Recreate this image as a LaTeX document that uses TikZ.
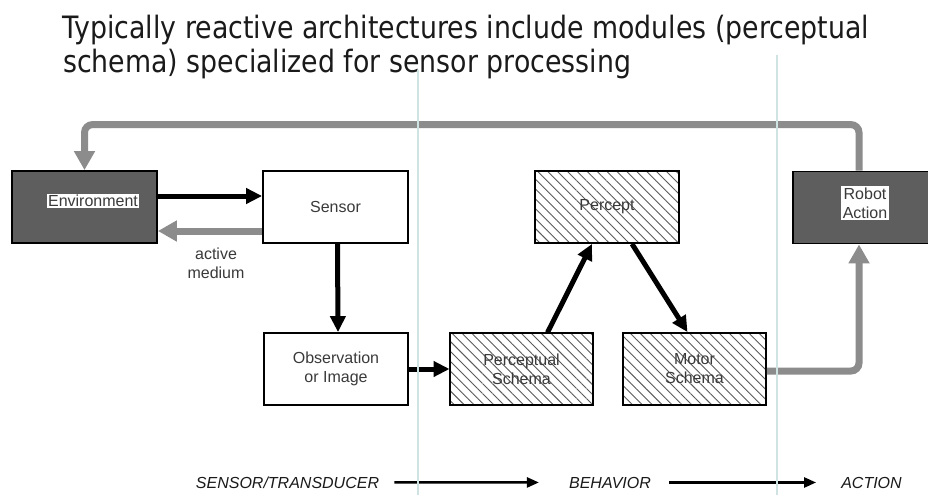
\documentclass[tikz,border=0pt]{standalone}
\usepackage{fontspec}
\setmainfont{Liberation Sans}
\newfontfamily\titlefont[FakeStretch=0.87]{DejaVu Sans}
\usetikzlibrary{arrows.meta,patterns.meta}
\definecolor{labc}{HTML}{3A3A3A}
\definecolor{darkc}{HTML}{5E5E5E}
\definecolor{grayc}{HTML}{8C8C8C}
\definecolor{hatchc}{HTML}{5A5A5A}
\definecolor{guidec}{HTML}{CFE3E3}
\definecolor{titlec}{HTML}{1A1A1A}
\begin{document}
\begin{tikzpicture}[x=1pt,y=-1pt,
  box/.style={draw=black, line width=1.8pt, inner sep=0pt, minimum height=72pt,
    font=\fontsize{16pt}{19pt}\selectfont, text=labc, align=center},
  whitebox/.style={box, fill=white},
  hatchbox/.style={box, pattern={Lines[angle=-45,distance=7pt,line width=0.9pt]}, pattern color=hatchc},
  darkbox/.style={box, fill=darkc},
  wlabel/.style={fill=white, inner sep=1.5pt, font=\fontsize{16pt}{19pt}\selectfont, text=labc, align=center},
  blk/.style={-{Triangle[length=16pt,width=15pt]}, line width=5pt, draw=black},
  gry/.style={-{Triangle[length=19pt,width=20pt]}, line width=7pt, draw=grayc},
  thinarr/.style={-{Triangle[length=12pt,width=10pt]}, line width=2.5pt, draw=black},
  stage/.style={inner sep=0pt, font=\fontsize{16pt}{19pt}\selectfont\itshape, text=titlec, anchor=base},
  titletext/.style={inner sep=0pt, anchor=base west, font=\titlefont\fontsize{30.8pt}{34pt}\selectfont, text=titlec},
  guide/.style={draw=guidec, line width=1.6pt}
]
\useasboundingbox (0,0) rectangle (928,495);
\clip (0,0) rectangle (928,495);
\fill[white] (0,0) rectangle (928,495);

% title
\node[titletext] (t1) at (62,39) {Typically reactive architectures include modules (perceptual};
\node[titletext] (t2) at (63,73) {schema) specialized for sensor processing};

% boxes
\node[darkbox, minimum width=145pt] (env) at (84.5,207) {};
\node[wlabel] (envl) at (93,201) {Environment};
\node[whitebox, minimum width=145pt] (sensor) at (335.5,207) {Sensor};
\node[whitebox, minimum width=144pt] (obs) at (336,369) {Observation\\or Image};
\node[hatchbox, minimum width=143pt] (ps) at (521.5,369) {Perceptual\\Schema};
\node[hatchbox, minimum width=144pt] (percept) at (607,207) {Percept};
\node[hatchbox, minimum width=143pt] (motor) at (694.5,369) {Motor\\Schema};
\node[darkbox, minimum width=142pt] (robot) at (864,207.5) {};
\node[wlabel] (robotl) at (865,203) {Robot\\Action};

% connectors
\draw[blk] ([yshift=11pt]env.east) -- ([yshift=11pt]sensor.west);
\draw[gry] ([yshift=-24pt]sensor.west) -- ([yshift=-24pt]env.east);
\node[font=\fontsize{16pt}{19pt}\selectfont, text=labc, align=center, inner sep=0pt] (am) at (216,263) {active\\medium};
\draw[blk] ([xshift=2pt]sensor.south) -- ([xshift=2pt]obs.north);
\draw[blk] (obs.east) -- (ps.west);
\draw[blk] ([xshift=26pt]ps.north) -- ([xshift=-15pt]percept.south);
\draw[blk] ([xshift=25pt]percept.south) -- ([xshift=-7pt]motor.north);
\draw[gry, rounded corners=8pt] ([yshift=-2pt]motor.east) -| ([xshift=-5pt]robot.south);
\draw[gry, rounded corners=8pt] ([xshift=-5pt]robot.north) -- ++(0,-46) -| (env.north);

% stages
\node[stage] (s1) at (287.5,488) {SENSOR/TRANSDUCER};
\node[stage] (s2) at (610,488) {BEHAVIOR};
\node[stage] (s3) at (871.5,488) {ACTION};
\draw[thinarr, shorten <=15pt, shorten >=30pt] (s1.east) -- (s2.west);
\draw[thinarr, shorten <=18pt, shorten >=25pt] (s2.east) -- (s3.west);

% guide lines
\draw[guide] (418,70) -- (418,495);
\draw[guide] (777,55) -- (777,495);
\end{tikzpicture}
\end{document}
